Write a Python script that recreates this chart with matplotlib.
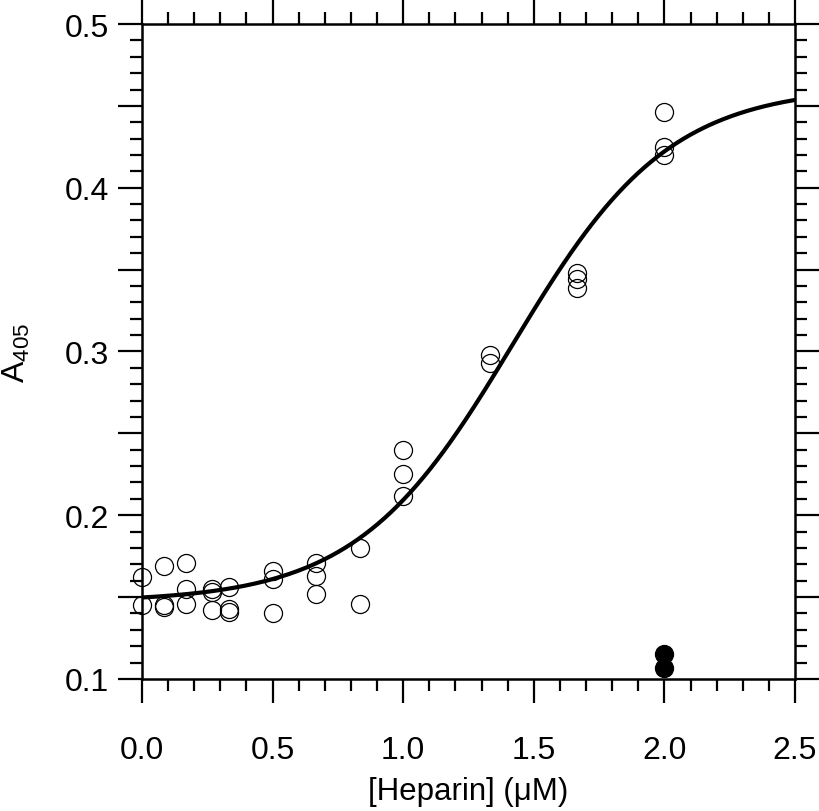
import numpy as np
import matplotlib
matplotlib.use("Agg")
import matplotlib.pyplot as plt
from matplotlib.ticker import MultipleLocator, FixedLocator, FixedFormatter

# ---- data ----
heparin_x = [0.0, 0.0,
             0.083, 0.083, 0.083,
             0.167, 0.167, 0.167,
             0.267, 0.267, 0.267,
             0.333, 0.333, 0.333,
             0.5, 0.5, 0.5,
             0.667, 0.667, 0.667,
             0.833, 0.833,
             1.0, 1.0, 1.0,
             1.333, 1.333,
             1.667, 1.667, 1.667,
             2.0, 2.0, 2.0]
a405 = [0.162, 0.145,
        0.169, 0.145, 0.144,
        0.171, 0.155, 0.146,
        0.155, 0.153, 0.142,
        0.156, 0.143, 0.141,
        0.166, 0.161, 0.140,
        0.171, 0.163, 0.152,
        0.180, 0.146,
        0.240, 0.225, 0.212,
        0.298, 0.293,
        0.348, 0.344, 0.339,
        0.446, 0.425, 0.420]

control_x = [2.0, 2.0]
control_y = [0.115, 0.107]

# fitted sigmoid parameters (baseline, amplitude, midpoint, slope width)
fit_base = 0.147
fit_amp = 0.315
fit_mid = 1.42
fit_width = 0.30

x_ticks = [0.0, 0.5, 1.0, 1.5, 2.0, 2.5]
x_tick_labels = ['0.0', '0.5', '1.0', '1.5', '2.0', '2.5']
y_ticks = [0.10, 0.15, 0.20, 0.25, 0.30, 0.35, 0.40, 0.45, 0.50]
y_tick_labels = ['0.1', '', '0.2', '', '0.3', '', '0.4', '', '0.5']

# ---- figure ----
plt.rcParams['font.family'] = ['Liberation Sans', 'DejaVu Sans']
plt.rcParams['mathtext.default'] = 'regular'

fig = plt.figure(figsize=(8.2, 8.12), dpi=100)
ax = fig.add_axes([0.1732, 0.1626, 0.7963, 0.8066])

xs = np.linspace(0, 2.5, 400)
ys = fit_base + fit_amp / (1 + np.exp(-(xs - fit_mid) / fit_width))
ax.plot(xs, ys, color='black', lw=3.0, zorder=3, solid_capstyle='butt')

ax.plot(heparin_x, a405, linestyle='none', marker='o', ms=13,
        mfc='none', mec='black', mew=0.9, zorder=2, clip_on=False)
ax.plot(control_x, control_y, linestyle='none', marker='o', ms=13,
        mfc='black', mec='black', mew=0.9, zorder=4, clip_on=False)

ax.set_xlim(0, 2.5)
ax.set_ylim(0.1, 0.5)

ax.xaxis.set_major_locator(FixedLocator(x_ticks))
ax.xaxis.set_major_formatter(FixedFormatter(x_tick_labels))
ax.xaxis.set_minor_locator(MultipleLocator(0.1))
ax.yaxis.set_major_locator(FixedLocator(y_ticks))
ax.yaxis.set_major_formatter(FixedFormatter(y_tick_labels))
ax.yaxis.set_minor_locator(MultipleLocator(0.01))

ax.tick_params(axis='both', which='major', direction='out', length=17.5, width=1.6,
               labelsize=23, top=True, right=True, color='black')
ax.tick_params(axis='both', which='minor', direction='out', length=8.6, width=1.6,
               top=True, right=True, color='black')
ax.tick_params(axis='x', which='major', pad=23)
ax.tick_params(axis='y', which='major', pad=6)

for sp in ax.spines.values():
    sp.set_linewidth(1.8)

ax.set_xlabel('[Heparin] (μM)', fontsize=22.5, labelpad=8)
ax.set_ylabel('A$_{405}$', fontsize=23, labelpad=24)

fig.savefig('out.png', dpi=100)
